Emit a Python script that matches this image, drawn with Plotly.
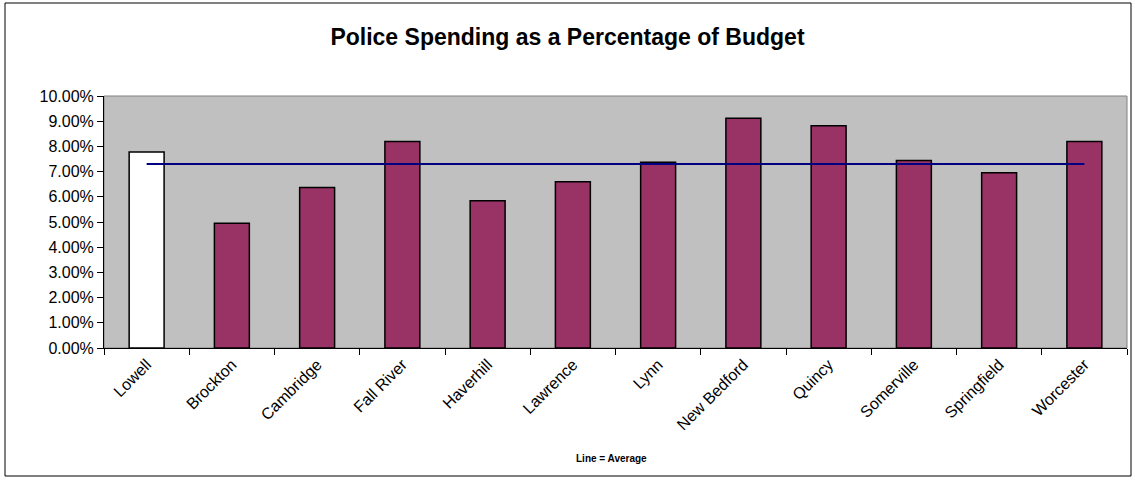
import plotly.graph_objects as go

cities = ["Lowell", "Brockton", "Cambridge", "Fall River", "Haverhill", "Lawrence",
          "Lynn", "New Bedford", "Quincy", "Somerville", "Springfield", "Worcester"]
police_pct = [0.0778, 0.0495, 0.0637, 0.0819, 0.0584, 0.0660,
              0.0737, 0.0912, 0.0882, 0.0744, 0.0695, 0.0819]
average_pct = sum(police_pct) / len(police_pct)
average_line = [average_pct] * len(cities)
bar_colors = ["#FFFFFF"] + ["#993366"] * (len(cities) - 1)

fig = go.Figure()
fig.add_trace(go.Bar(x=cities, y=police_pct, marker=dict(color=bar_colors,
                     line=dict(color="#000000", width=1.5)), width=0.41))
fig.add_trace(go.Scatter(x=cities, y=average_line, mode="lines",
                         line=dict(color="#000080", width=2)))

L, R, T, B = 104, 8, 96, 132
W, H = 1135, 480
pw, ph = W - L - R, H - T - B

def px(x):
    return (x - L) / pw

def py(y):
    return (H - B - y) / ph

fig.update_layout(
    width=W, height=H,
    margin=dict(l=L, r=R, t=T, b=B),
    paper_bgcolor="#FFFFFF", plot_bgcolor="#C0C0C0",
    showlegend=False, bargap=0.59,
    font=dict(family="Liberation Sans, Arial", color="#000000"),
    title=dict(text="<b>Police Spending as a Percentage of Budget</b>",
               x=0.5, xanchor="center", y=1 - 37 / H, yanchor="middle",
               font=dict(size=23, family="Liberation Sans, Arial")),
    xaxis=dict(showgrid=False, showline=True, linecolor="#000000", linewidth=1,
               ticks="outside", ticklen=6, tickcolor="#000000", tickson="boundaries",
               tickangle=-45, tickfont=dict(size=16), mirror=False, zeroline=False),
    yaxis=dict(range=[0, 0.10], dtick=0.01, tickformat=".2%", showgrid=False,
               showline=True, linecolor="#000000", linewidth=1,
               ticks="outside", ticklen=6, tickcolor="#000000",
               tickfont=dict(size=16), zeroline=False),
    shapes=[
        dict(type="rect", xref="paper", yref="paper", x0=0, x1=1, y0=0, y1=1,
             line=dict(color="#808080", width=1), fillcolor="rgba(0,0,0,0)", layer="below"),
        dict(type="rect", xref="paper", yref="paper", x0=px(5), x1=px(1131),
             y0=py(476), y1=py(3), line=dict(color="#000000", width=1),
             fillcolor="rgba(0,0,0,0)"),
    ],
    annotations=[dict(text="<b>Line = Average</b>", xref="paper", yref="paper",
                      x=px(611), y=py(458), xanchor="center", yanchor="middle",
                      showarrow=False, font=dict(size=10))],
)

fig.write_html("out.html")
